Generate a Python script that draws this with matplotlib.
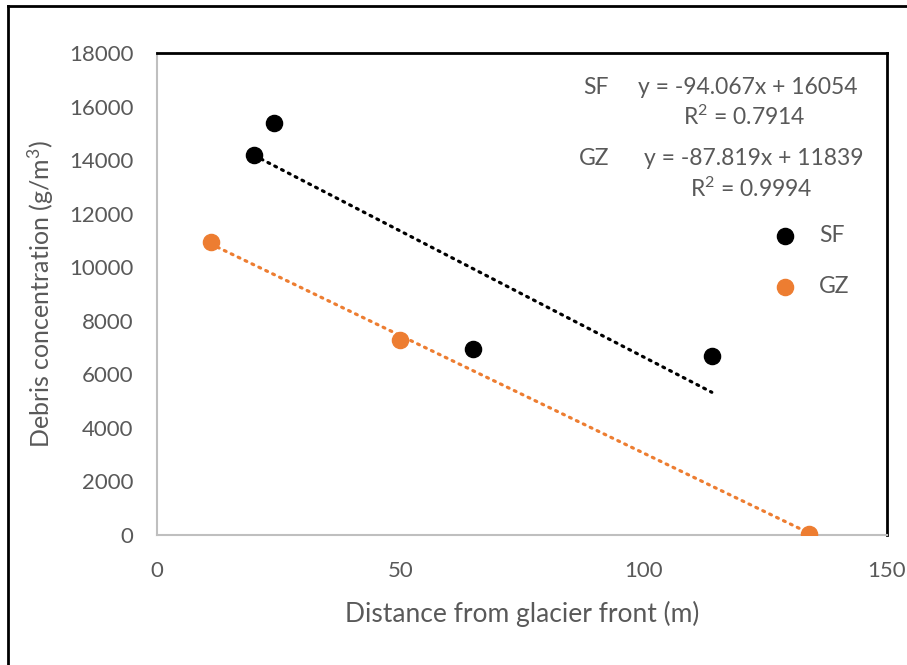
import numpy as np
import matplotlib.pyplot as plt
from matplotlib.lines import Line2D

plt.rcParams['font.family'] = ['Lato', 'DejaVu Sans']
plt.rcParams['mathtext.fontset'] = 'custom'
plt.rcParams['mathtext.rm'] = 'Lato'
plt.rcParams['mathtext.it'] = 'Lato:italic'
plt.rcParams['mathtext.bf'] = 'Lato:bold'

# distance from glacier front (m) and debris concentration (g/m3)
sf_x = [20, 24, 65, 114]
sf_y = [14200, 15400, 6950, 6700]
gz_x = [11, 50, 134]
gz_y = [10950, 7300, 50]

sf_fit = (-94.067, 16054, 0.7914)
gz_fit = (-87.819, 11839, 0.9994)

black = '#000000'
orange = '#ED7D31'
grey = '#595959'

fig = plt.figure(figsize=(9.07, 6.65), dpi=100)
ax = fig.add_axes([157/907, 1 - 535/665, 730/907, 482/665])

ax.scatter(sf_x, sf_y, s=135, color=black, zorder=3, label='SF')
ax.scatter(gz_x, gz_y, s=135, color=orange, zorder=3, label='GZ')

# linear trendlines over the range of each series
for xs, (m, b, r2), c in [(sf_x, sf_fit, black), (gz_x, gz_fit, orange)]:
    xx = np.array([min(xs), max(xs)])
    ax.plot(xx, m * xx + b, color=c, lw=2.3, ls=(0, (0.6, 1.8)),
            dash_capstyle='round', zorder=2)

ax.set_xlim(0, 150)
ax.set_ylim(0, 18000)
ax.set_xticks([0, 50, 100, 150])
ax.set_yticks(np.arange(0, 18001, 2000))
ax.tick_params(length=0, labelsize=16, colors=grey)
ax.tick_params(axis='y', pad=17)
ax.tick_params(axis='x', pad=19)

for side in ['left', 'bottom']:
    ax.spines[side].set_color('#BFBFBF')
    ax.spines[side].set_linewidth(1.5)
for side in ['top', 'right']:
    ax.spines[side].set_color('#000000')
    ax.spines[side].set_linewidth(2)

ax.set_xlabel('Distance from glacier front (m)', fontsize=19, color=grey, labelpad=14)
ax.set_ylabel(r'Debris concentration (g/m$^\mathrm{3}$)', fontsize=18, color=grey, labelpad=9)

# trendline equations
eq_kw = dict(transform=ax.transAxes, fontsize=16.5, color=grey)
ax.text(0.584, 0.929, 'SF', ha='left', va='center', **eq_kw)
ax.text(0.96, 0.929, 'y = %.3fx + %d' % (sf_fit[0], sf_fit[1]), ha='right', va='center', **eq_kw)
ax.text(0.804, 0.868, r'R$^\mathrm{2}$ = %.4f' % sf_fit[2], ha='center', va='center', **eq_kw)
ax.text(0.578, 0.781, 'GZ', ha='left', va='center', **eq_kw)
ax.text(0.968, 0.781, 'y = %.3fx + %d' % (gz_fit[0], gz_fit[1]), ha='right', va='center', **eq_kw)
ax.text(0.814, 0.719, r'R$^\mathrm{2}$ = %.4f' % gz_fit[2], ha='center', va='center', **eq_kw)

ax.legend(loc='upper left', bbox_to_anchor=(0.8, 0.685), frameon=False,
          fontsize=16.5, labelcolor=grey, handletextpad=0.5, labelspacing=1.3)

# outer frame (left and top edges)
fig.add_artist(Line2D([8/907, 8/907], [0, 1 - 6/665], color='black', lw=2))
fig.add_artist(Line2D([8/907, 1], [1 - 6/665, 1 - 6/665], color='black', lw=2))

fig.savefig('out.png', dpi=100)
